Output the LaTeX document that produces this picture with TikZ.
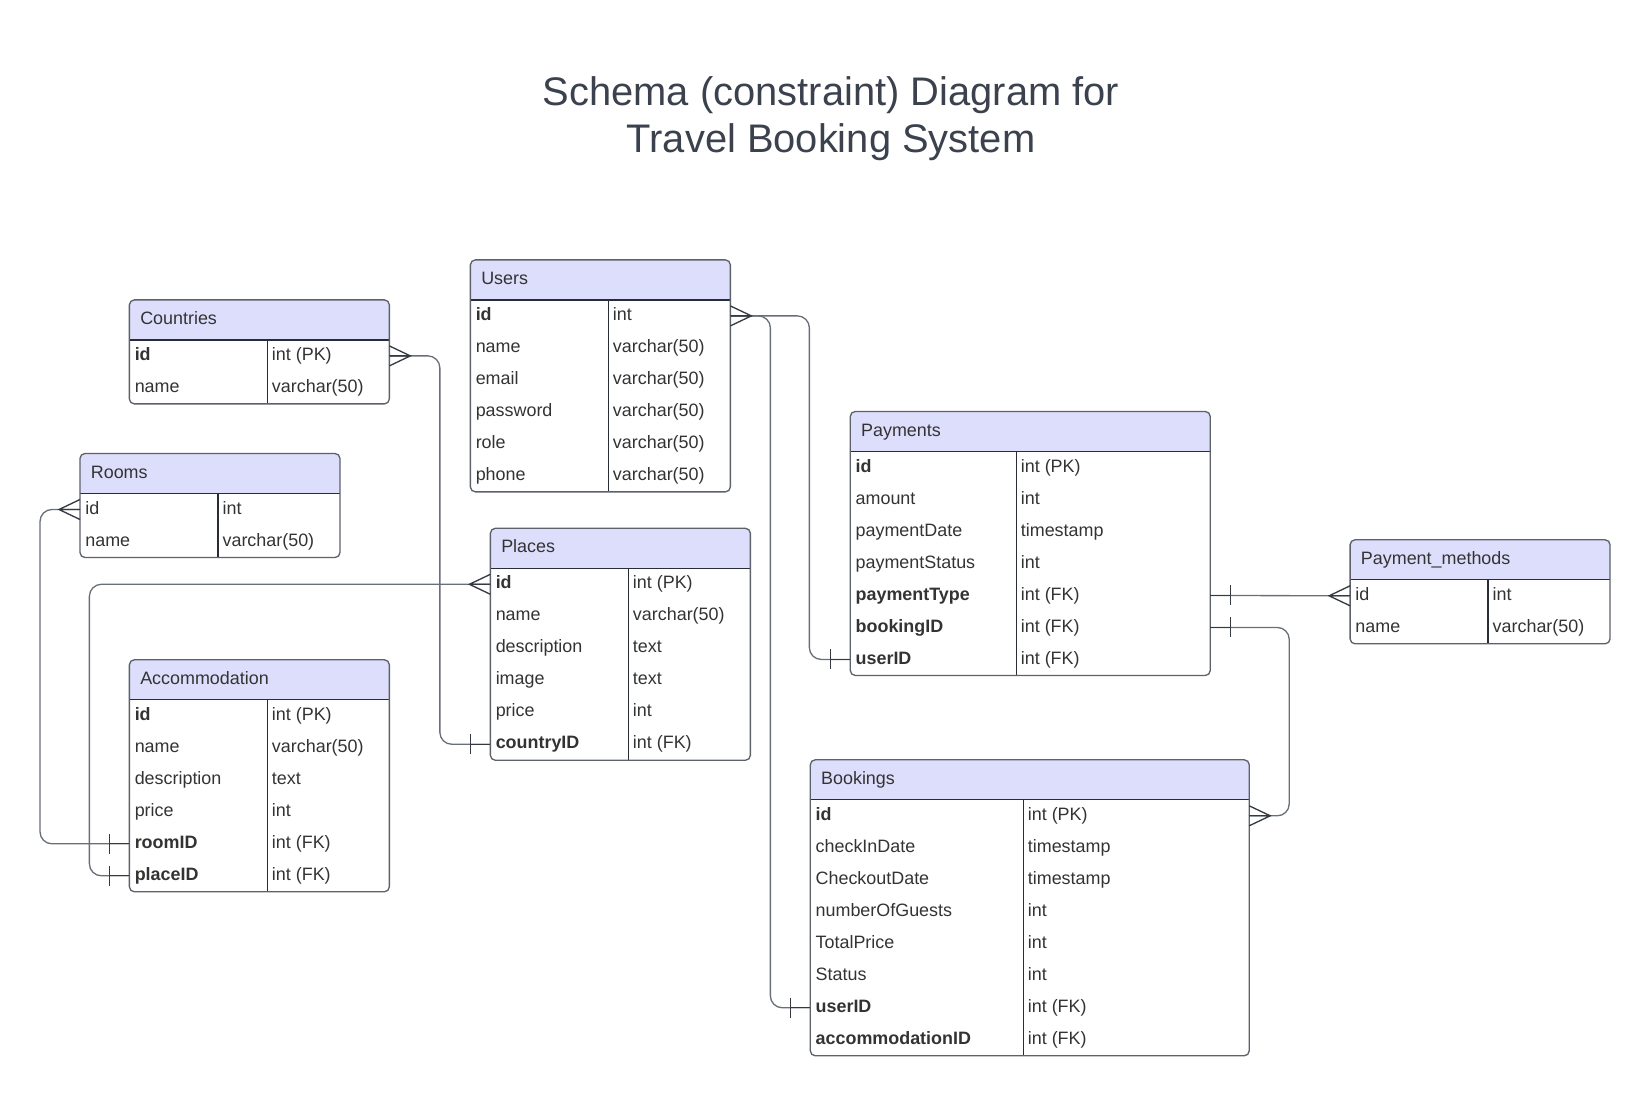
\documentclass[tikz,border=0pt]{standalone}
\usepackage{fontspec}
\setmainfont{Liberation Sans}
\usepackage{tikz}
\usetikzlibrary{positioning,calc}
\definecolor{hdrfill}{RGB}{221,222,252}
\definecolor{framec}{RGB}{92,97,106}
\definecolor{gridc}{RGB}{40,44,52}
\definecolor{linec}{RGB}{105,111,120}
\definecolor{footc}{RGB}{52,57,66}
\definecolor{txtc}{RGB}{51,51,51}
\definecolor{titlec}{RGB}{59,66,78}
\tikzset{
  hd/.style={minimum height=0.8cm,inner sep=0pt,outer sep=0pt},
  rw/.style={minimum height=0.64cm,inner sep=0pt,outer sep=0pt},
  cell/.style={inner sep=0pt,text=txtc,font=\fontsize{10.2}{12}\selectfont,text height=7.3pt,text depth=2.1pt,anchor=west},
  frm/.style={draw=framec,line width=0.75pt,rounded corners=2.8pt},
  grd/.style={draw=gridc,line width=0.75pt},
  conn/.style={draw=linec,line width=0.75pt,rounded corners=6.8pt},
  many/.pic={\draw[footc,line width=0.75pt] (0,-10) -- (21,0) -- (0,10) (0,0) -- (21,0);},
  one/.pic={\draw[footc,line width=0.75pt] (20,-10) -- (20,10) (0,0) -- (20,0);}
}
\newcommand{\ertable}[6]{%
  \node[hd,minimum width=#3,anchor=north west] (#1-head) at #2 {};
  \fill[hdrfill] (#1-head.south west) [rounded corners=2.8pt] -- (#1-head.north west) -- (#1-head.north east) [sharp corners] -- (#1-head.south east) -- cycle;
  \node[cell] (#1-title) at ([xshift=0.21cm]#1-head.west) {#5};
  \foreach[count=\i, remember=\i as \j (initially head)] \k/\t in {#6}{
    \node[rw,minimum width=#3,below=0pt of #1-\j] (#1-\i) {};
    \node[cell] (#1-\i-k) at ([xshift=0.1cm]#1-\i.west) {\k};
    \node[cell] (#1-\i-t) at ([xshift=#4+0.085cm]#1-\i.west) {\t};
    \xdef\lastrow{\i}
  }
  \draw[grd] (#1-head.south west) -- (#1-head.south east);
  \draw[grd] ([xshift=#4]#1-head.south west) -- ([xshift=#4]#1-\lastrow.south west);
  \draw[frm] (#1-head.north west) rectangle (#1-\lastrow.south east);
}

\begin{document}
\begin{tikzpicture}[x=0.02cm,y=-0.02cm]
\useasboundingbox (0,0) rectangle (1650,1096);
\node[font=\fontsize{22.7}{26.9}\selectfont,text=titlec,align=center] (title) at (831,118.5) {Schema (constraint) Diagram for\\Travel Booking System};

\ertable{countries}{(129.4,299.9)}{5.2cm}{2.76cm}{Countries}{\textbf{id}/int (PK), name/varchar(50)}
\ertable{users}{(470.4,259.9)}{5.2cm}{2.76cm}{Users}{\textbf{id}/int, name/varchar(50), email/varchar(50), password/varchar(50), role/varchar(50), phone/varchar(50)}
\ertable{rooms}{(80.0,453.5)}{5.2cm}{2.76cm}{Rooms}{id/int, name/varchar(50)}
\ertable{places}{(490.4,528.3)}{5.2cm}{2.76cm}{Places}{\textbf{id}/int (PK), name/varchar(50), description/text, image/text, price/int, \textbf{countryID}/int (FK)}
\ertable{accommodation}{(129.4,659.8)}{5.2cm}{2.76cm}{Accommodation}{\textbf{id}/int (PK), name/varchar(50), description/text, price/int, \textbf{roomID}/int (FK), \textbf{placeID}/int (FK)}
\ertable{payments}{(850.3,411.5)}{7.2cm}{3.32cm}{Payments}{\textbf{id}/int (PK), amount/int, paymentDate/timestamp, paymentStatus/int, \textbf{paymentType}/int (FK), \textbf{bookingID}/int (FK), \textbf{userID}/int (FK)}
\ertable{paymethods}{(1350.1,539.8)}{5.2cm}{2.76cm}{Payment\_methods}{id/int, name/varchar(50)}
\ertable{bookings}{(810.3,759.8)}{8.78cm}{4.26cm}{Bookings}{\textbf{id}/int (PK), checkInDate/timestamp, CheckoutDate/timestamp, numberOfGuests/int, TotalPrice/int, Status/int, \textbf{userID}/int (FK), \textbf{accommodationID}/int (FK)}

\draw[conn] (countries-1.east) -- ++(50.5,0) |- (places-6.west);
\pic at (countries-1.east) {many};
\pic[xscale=-1] at (places-6.west) {one};

\draw[conn] (users-1.east) -- ++(79,0) |- (payments-7.west);
\draw[conn] (users-1.east) -- ++(40,0) |- (bookings-7.west);
\pic at (users-1.east) {many};
\pic[xscale=-1] at (payments-7.west) {one};
\pic[xscale=-1] at (bookings-7.west) {one};

\draw[conn] (rooms-1.west) -- ++(-40,0) |- (accommodation-5.west);
\pic[xscale=-1] at (rooms-1.west) {many};
\pic[xscale=-1] at (accommodation-5.west) {one};

\draw[conn] (places-1.west) -- ++(-401,0) |- (accommodation-6.west);
\pic[xscale=-1] at (places-1.west) {many};
\pic[xscale=-1] at (accommodation-6.west) {one};

\draw[conn] (payments-5.east) -- (paymethods-1.west);
\pic at (payments-5.east) {one};
\pic[xscale=-1] at (paymethods-1.west) {many};

\draw[conn] (payments-6.east) -- ++(79,0) |- (bookings-1.east);
\pic at (payments-6.east) {one};
\pic at (bookings-1.east) {many};
\end{tikzpicture}
\end{document}
